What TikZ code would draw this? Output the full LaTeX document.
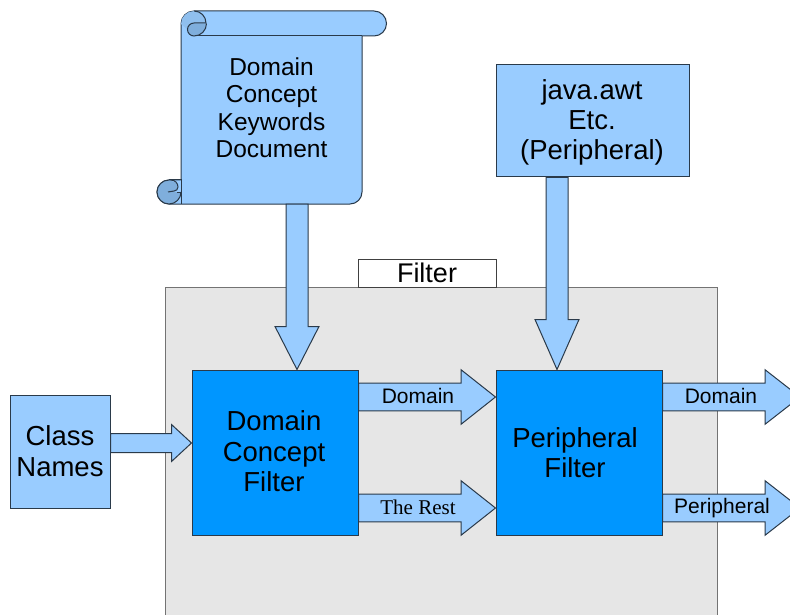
\documentclass[tikz,border=0pt]{standalone}
\usepackage{fontspec}
\setmainfont{Liberation Sans}
\newfontfamily\serifface{Liberation Serif}
\usetikzlibrary{calc}
\definecolor{lightb}{HTML}{99CCFF}
\definecolor{darkb}{HTML}{0096FF}
\definecolor{curlb}{HTML}{7FAEDC}
\definecolor{capb}{HTML}{8FBFEE}
\definecolor{panel}{HTML}{E6E6E6}
\definecolor{edgeb}{HTML}{2A3A4A}
\tikzset{
  lightbox/.style={draw=edgeb,line width=1pt,fill=lightb,align=center,inner sep=0pt,font=\fontsize{27.5}{31}\selectfont},
  darkbox/.style={draw=edgeb,line width=1pt,fill=darkb,align=center,inner sep=0pt,font=\fontsize{27.5}{30.5}\selectfont},
  blockarrow/.style={draw=edgeb,line width=1pt,fill=lightb,line join=miter},
  arrowlabel/.style={inner sep=0pt,font=\fontsize{21}{24}\selectfont},
  scrollline/.style={draw=edgeb,line width=1pt},
}
% horizontal block arrow: start, tip, half shaft, half head, head length
\newcommand\harrow[5]{\draw[blockarrow] let \p1=(#1),\p2=(#2) in
  (\x1,\y1+#3pt) -- (\x2-#5pt,\y1+#3pt) -- (\x2-#5pt,\y1+#4pt) -- (\x2,\y1) --
  (\x2-#5pt,\y1-#4pt) -- (\x2-#5pt,\y1-#3pt) -- (\x1,\y1-#3pt) -- cycle;}
% vertical (downward) block arrow
\newcommand\varrow[5]{\draw[blockarrow] let \p1=(#1),\p2=(#2) in
  (\x1-#3pt,\y1) -- (\x1-#3pt,\y2+#5pt) -- (\x1-#4pt,\y2+#5pt) -- (\x1,\y2) --
  (\x1+#4pt,\y2+#5pt) -- (\x1+#3pt,\y2+#5pt) -- (\x1+#3pt,\y1) -- cycle;}
\begin{document}
\begin{tikzpicture}[x=1pt,y=-1pt]
\useasboundingbox (0,0) rectangle (790,615);
\fill[white] (0,0) rectangle (790,615);
\clip (0,0) rectangle (790,615);

% filter panel
\node[draw=black!55,line width=1pt,fill=panel,minimum width=552pt,minimum height=360pt,inner sep=0pt] (panel) at (441,467) {};
\node[draw=black!75,line width=1pt,fill=white,minimum width=138pt,minimum height=28pt,inner sep=0pt,font=\fontsize{27}{30}\selectfont] (filterlabel) at (427,273) {Filter};

% scroll
\draw[scrollline,fill=lightb]
  (181,24) arc[start angle=180,end angle=90,radius=13pt] -- (374,11)
  arc[start angle=90,end angle=-90,radius=12.5pt] -- (362,36) -- (362,192)
  arc[start angle=0,end angle=-90,radius=12pt] -- (169,204)
  arc[start angle=270,end angle=90,radius=12pt] -- (181,180) -- cycle;
\draw[scrollline] (362,36) -- (194,36);
% top curl
\fill[capb] (181,24) arc[start angle=180,end angle=90,radius=13pt]
  arc[start angle=90,end angle=0,radius=12pt] -- (194,23)
  arc[start angle=90,end angle=180,radius=6.5pt] -- cycle;
\draw[scrollline] (194,11) arc[start angle=90,end angle=0,radius=12pt];
\draw[scrollline,fill=curlb] (206,23) -- (194,23)
  arc[start angle=90,end angle=270,radius=6.5pt]
  arc[start angle=270,end angle=360,radius=12.5pt];
% bottom curl
\fill[curlb] (169,180) arc[start angle=90,end angle=360,radius=12pt] -- (174,192)
  arc[start angle=-90,end angle=0,radius=4pt] arc[start angle=0,end angle=90,radius=7pt] -- cycle;
\draw[scrollline] (169,180) arc[start angle=90,end angle=360,radius=12pt];
\draw[scrollline] (169,180) -- (171,180) arc[start angle=90,end angle=0,radius=7pt] arc[start angle=0,end angle=-90,radius=4pt] -- (168,192);
\draw[scrollline] (177,192) -- (181,192);
\draw[scrollline] (169,180) -- (181,180) -- (181,204);
\node[inner sep=0pt,minimum width=181pt,minimum height=168pt] (scroll) at (271.5,120) {};
\node[inner sep=0pt,align=center,font=\fontsize{24.5}{27.5}\selectfont] (scrolltext) at (271.5,107.5) {Domain\\Concept\\Keywords\\Document};

% boxes
\node[lightbox,minimum width=193pt,minimum height=112pt] (java) at (592.5,121) {};
\node[inner sep=0pt,align=center,font=\fontsize{27.5}{30}\selectfont] (javatext) at (592,122.5) {java.awt\\Etc.\\(Peripheral)};
\node[lightbox,minimum width=100pt,minimum height=113pt] (classes) at (60,451.5) {Class\\Names};
\node[darkbox,minimum width=166pt,minimum height=165pt] (dcf) at (275,452.5) {};
\node[inner sep=0pt,align=center,font=\fontsize{27.5}{30.5}\selectfont] (dcftext) at (274,451.5) {Domain\\Concept\\Filter};
\node[darkbox,minimum width=166pt,minimum height=165pt] (pf) at (579,452.5) {};
\node[inner sep=0pt,align=center,font=\fontsize{27.5}{30.5}\selectfont] (pftext) at (575,452.5) {Peripheral\\Filter};

% free ends
\coordinate (outa) at (800,397);
\coordinate (outb) at (800,508);

% connectors
\varrow{[xshift=25.5pt]scroll.south}{[xshift=22pt]dcf.north}{11}{22}{43}
\varrow{[xshift=-35.5pt]java.south}{[xshift=-22pt]pf.north}{11}{22}{50}
\harrow{[yshift=8.5pt]classes.east}{dcf.west}{9.5}{18.5}{20}
\harrow{[yshift=55.5pt]dcf.east}{pf.west}{13.8}{27.3}{34.5}
\harrow{[yshift=-55.5pt]dcf.east}{pf.west}{13.8}{27.3}{34.5}
\harrow{[yshift=55.5pt]pf.east}{outa}{13.8}{27.3}{35}
\harrow{[yshift=-55.5pt]pf.east}{outb}{13.8}{27.3}{35}

% arrow labels
\node[arrowlabel] (la) at (418,396) {Domain};
\node[arrowlabel,font=\serifface\fontsize{21}{24}\selectfont] (lb) at (418,507) {The Rest};
\node[arrowlabel] (lc) at (721,396) {Domain};
\node[arrowlabel] (ld) at (722,508.5) {Peripheral};
\end{tikzpicture}
\end{document}
